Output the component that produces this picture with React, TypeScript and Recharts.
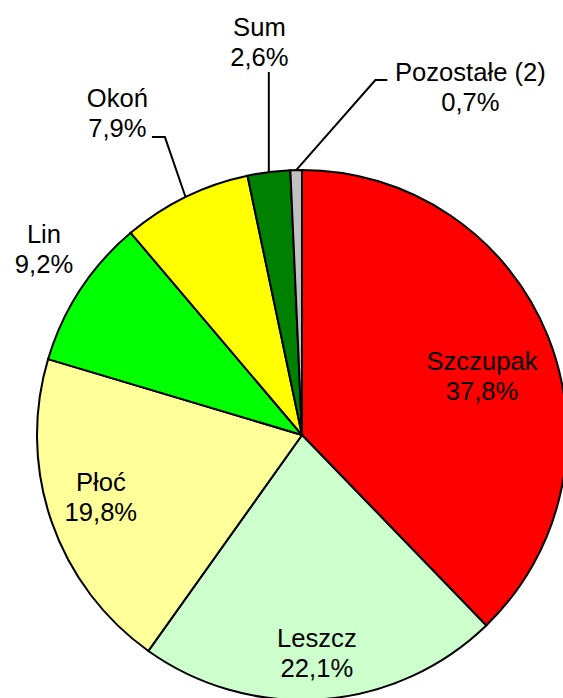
import React from "react";
import { PieChart, Pie, Cell } from "recharts";

const species = ["Szczupak", "Leszcz", "Płoć", "Lin", "Okoń", "Sum", "Pozostałe (2)"];
const shares = [37.8, 22.1, 19.8, 9.2, 7.9, 2.6, 0.7];
const shareLabels = ["37,8%", "22,1%", "19,8%", "9,2%", "7,9%", "2,6%", "0,7%"];
const colors = ["#FF0000", "#CCFFCC", "#FFFF99", "#00FF00", "#FFFF00", "#008000", "#C0C0C0"];

const data = species.map((name, i) => ({ name, value: shares[i], label: shareLabels[i] }));

// label placement: radius factor and angle nudge from slice mid angle, leader polyline relative to text anchor
const labelPlacement: { r: number; da: number; leader?: number[][] }[] = [
  { r: 0.722, da: -2.2 },
  { r: 0.802, da: -0.3 },
  { r: 0.788, da: -3.4 },
  { r: 1.214, da: -3.5 },
  { r: 1.42, da: 3.3, leader: [[47.5, 30], [34.5, 30]] },
  { r: 1.514, da: -1.1, leader: [[9.5, 36]] },
  { r: 1.479, da: -26.7, leader: [[-95, -1], [-83, -1]] },
];

const RADIAN = Math.PI / 180;

const renderLabel = (props: any) => {
  const { cx, cy, midAngle, outerRadius, index } = props;
  const p = labelPlacement[index];
  const a = (midAngle + p.da) * RADIAN;
  const x = cx + outerRadius * p.r * Math.cos(a);
  const y = cy - outerRadius * p.r * Math.sin(a);
  let line = null;
  if (p.leader) {
    const ex = cx + outerRadius * Math.cos(midAngle * RADIAN);
    const ey = cy - outerRadius * Math.sin(midAngle * RADIAN);
    let pts = [[ex, ey], ...p.leader.map(([dx, dy]) => [x + dx, y + dy])];
    if (p.leader.length === 1) pts = [[ex, ey], [ex, y + p.leader[0][1]]];
    line = (
      <polyline
        points={pts.map((q) => q.join(",")).join(" ")}
        fill="none"
        stroke="#000"
        strokeWidth={2}
      />
    );
  }
  return (
    <g key={`lbl-${index}`}>
      {line}
      <text
        x={x}
        y={y}
        textAnchor="middle"
        fill="#000"
        fontSize={25.6}
        fontFamily="'Liberation Sans', Arial, sans-serif"
      >
        <tspan x={x} y={y}>{species[index]}</tspan>
        <tspan x={x} y={y + 30}>{shareLabels[index]}</tspan>
      </text>
    </g>
  );
};

export default function App() {
  return (
    <div style={{ position: "absolute", left: 0, top: 0, width: 563, height: 698, background: "#fff" }}>
      <PieChart width={563} height={698} margin={{ top: 0, right: 0, bottom: 0, left: 0 }}>
        <Pie
          data={data}
          dataKey="value"
          nameKey="name"
          cx={302}
          cy={435}
          outerRadius={265}
          startAngle={90}
          endAngle={-270}
          stroke="#000"
          strokeWidth={2}
          label={renderLabel}
          labelLine={false}
          isAnimationActive={false}
        >
          {data.map((d, i) => (
            <Cell key={d.name} fill={colors[i]} />
          ))}
        </Pie>
      </PieChart>
    </div>
  );
}
